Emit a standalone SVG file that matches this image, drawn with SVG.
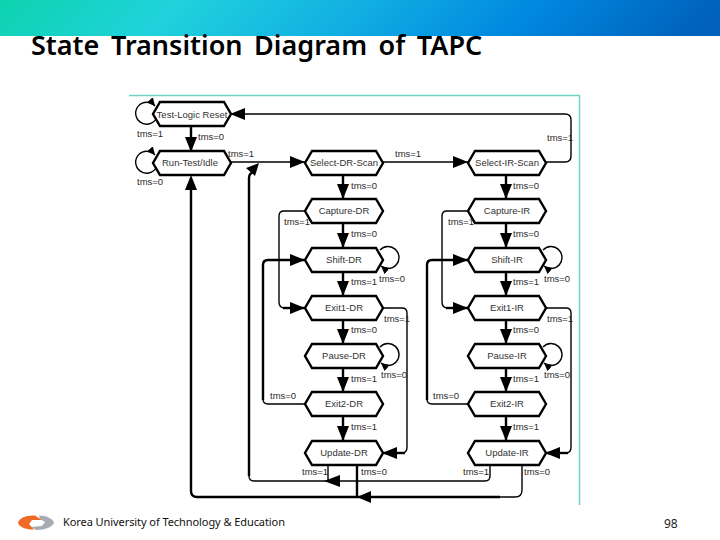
<svg xmlns="http://www.w3.org/2000/svg" width="720" height="540" viewBox="0 0 720 540">
<style>
.n{fill:#fff;stroke:#000;stroke-width:2.4;stroke-linejoin:miter}
.t{font-family:"Liberation Sans",Arial,sans-serif;font-size:9.5px;fill:#333;text-anchor:middle}
.l{font-family:"Liberation Sans",Arial,sans-serif;font-size:9.5px;fill:#2a2a2a}
.c{fill:none;stroke:#000;stroke-width:1.4;stroke-linejoin:round}
.k{fill:none;stroke:#000;stroke-width:2.4;stroke-linejoin:round}
.a{marker-end:url(#ah)}
.s{marker-end:url(#sh)}
</style>
<defs>
<linearGradient id="bar" x1="0" y1="0" x2="1" y2="0.05">
<stop offset="0" stop-color="#0dd3ae"/>
<stop offset="0.25" stop-color="#20d2dc"/>
<stop offset="0.5" stop-color="#12b0e2"/>
<stop offset="0.75" stop-color="#0088e0"/>
<stop offset="1" stop-color="#0062bc"/>
</linearGradient>
<marker id="ah" markerUnits="userSpaceOnUse" markerWidth="16" markerHeight="12" refX="15" refY="6" orient="auto"><path d="M0 0L15 6L0 12Z" fill="#000"/></marker>
<marker id="sh" markerUnits="userSpaceOnUse" markerWidth="9" markerHeight="9" refX="8" refY="4" orient="auto"><path d="M0 0L8 4L0 8Z" fill="#000"/></marker>
<path id="hex" class="n" d="M-32 -12H32L39 0L32 12H-32L-39 0Z"/>
</defs>
<rect x="0" y="0" width="720" height="36" fill="url(#bar)"/>
<text x="31" y="55" font-family="'Noto Sans','Open Sans',sans-serif" font-size="27" font-weight="600" fill="#000" word-spacing="4.500">State Transition Diagram of TAPC</text>
<path d="M129 95.500H579.500V505" fill="none" stroke="#6fd3c4" stroke-width="1.500"/>
<g id="connectors">
<path class="c s" d="M156 119A11 11 0 1 1 155 106"/>
<path class="c s" d="M156 168A11 11 0 1 1 155 155"/>
<path class="k a" d="M191 126V152"/>
<path class="c a" d="M230 162H305"/>
<path class="c a" d="M382 162H468"/>
<path class="c a" d="M545 162H565Q571 162 571 156V120Q571 114 565 114H230"/>
<path class="k a" d="M343 174V199"/>
<path class="k a" d="M343 223V248"/>
<path class="k a" d="M343 272V296"/>
<path class="k a" d="M343 320V344"/>
<path class="k a" d="M343 368V392"/>
<path class="k a" d="M343 416V441"/>
<path class="k a" d="M506 174V199"/>
<path class="k a" d="M506 223V248"/>
<path class="k a" d="M506 272V296"/>
<path class="k a" d="M506 320V344"/>
<path class="k a" d="M506 368V392"/>
<path class="k a" d="M506 416V441"/>
<path class="c" d="M305 211H284Q279 211 279 216V302Q279 308 285 308H292"/>
<path class="k a" d="M283 308H305"/>
<path class="c" d="M468 211H447Q442 211 442 216V302Q442 308 448 308H455"/>
<path class="k a" d="M446 308H468"/>
<path class="c" d="M305 404H268Q263 404 263 399V330"/>
<path class="k a" d="M263 400V265Q263 260 268 260H305"/>
<path class="c" d="M468 404H432Q427 404 427 399V330"/>
<path class="k a" d="M427 400V265Q427 260 432 260H468"/>
<path class="c" d="M382 308H402Q407 308 407 313V447Q407 453 402 453H392"/>
<path class="k a" d="M405 453H382"/>
<path class="c" d="M545 308H566Q571 308 571 313V447Q571 453 566 453H555"/>
<path class="k a" d="M568 453H545"/>
<path class="c" d="M490 465V476Q490 481 485 481H254Q249 481 249 476"/>
<path class="k" d="M249 476V178Q249 173 254 172"/>
<path class="c" d="M328 465V481"/>
<path d="M324 481L340 475V487Z" fill="#000"/>
<path d="M259 163L255 176L246 168Z" fill="#000"/>
<path class="c" d="M522 465V490Q522 497 515 497H500"/>
<path class="k" d="M357 465V497"/>
<path class="k" d="M500 497H197Q191 497 191 491V190"/>
<path d="M191 175L197 190H185Z" fill="#000"/>
<path d="M357 497L371 491V503Z" fill="#000"/>
<path class="c s" d="M380 250A11 11 0 1 1 381 266"/>
<path class="c s" d="M380 347A11 11 0 1 1 381 363"/>
<path class="c s" d="M543 250A11 11 0 1 1 544 266"/>
<path class="c s" d="M543 347A11 11 0 1 1 544 363"/>
</g>
<g id="test-logic-reset"><use href="#hex" x="192" y="114"/><text class="t" x="192" y="117.500">Test-Logic Reset</text></g>
<g id="run-test-idle"><use href="#hex" x="192" y="163"/><text class="t" x="190" y="166">Run-Test/Idle</text></g>
<g id="select-dr-scan"><use href="#hex" x="344" y="163"/><text class="t" x="344" y="166">Select-DR-Scan</text></g>
<g id="capture-dr"><use href="#hex" x="344" y="211"/><text class="t" x="344" y="214">Capture-DR</text></g>
<g id="shift-dr"><use href="#hex" x="344" y="260"/><text class="t" x="344" y="263">Shift-DR</text></g>
<g id="exit1-dr"><use href="#hex" x="344" y="308"/><text class="t" x="344" y="311">Exit1-DR</text></g>
<g id="pause-dr"><use href="#hex" x="344" y="356"/><text class="t" x="344" y="359">Pause-DR</text></g>
<g id="exit2-dr"><use href="#hex" x="344" y="404"/><text class="t" x="344" y="407">Exit2-DR</text></g>
<g id="update-dr"><use href="#hex" x="344" y="453"/><text class="t" x="344" y="456">Update-DR</text></g>
<g id="select-ir-scan"><use href="#hex" x="507" y="163"/><text class="t" x="507" y="166">Select-IR-Scan</text></g>
<g id="capture-ir"><use href="#hex" x="507" y="211"/><text class="t" x="507" y="214">Capture-IR</text></g>
<g id="shift-ir"><use href="#hex" x="507" y="260"/><text class="t" x="507" y="263">Shift-IR</text></g>
<g id="exit1-ir"><use href="#hex" x="507" y="308"/><text class="t" x="507" y="311">Exit1-IR</text></g>
<g id="pause-ir"><use href="#hex" x="507" y="356"/><text class="t" x="507" y="359">Pause-IR</text></g>
<g id="exit2-ir"><use href="#hex" x="507" y="404"/><text class="t" x="507" y="407">Exit2-IR</text></g>
<g id="update-ir"><use href="#hex" x="507" y="453"/><text class="t" x="507" y="456">Update-IR</text></g>
<g id="labels">
<text class="l" x="137" y="137">tms=1</text>
<text class="l" x="198" y="140">tms=0</text>
<text class="l" x="228" y="157">tms=1</text>
<text class="l" x="137" y="185">tms=0</text>
<text class="l" x="395" y="157">tms=1</text>
<text class="l" x="547" y="141">tms=1</text>
<text class="l" x="351" y="189">tms=0</text>
<text class="l" x="513" y="189">tms=0</text>
<text class="l" x="351" y="237">tms=0</text>
<text class="l" x="513" y="237">tms=0</text>
<text class="l" x="284" y="225">tms=1</text>
<text class="l" x="448" y="225">tms=1</text>
<text class="l" x="351" y="285">tms=1</text>
<text class="l" x="513" y="285">tms=1</text>
<text class="l" x="379" y="282">tms=0</text>
<text class="l" x="544" y="282">tms=0</text>
<text class="l" x="384" y="322">tms=1</text>
<text class="l" x="547" y="322">tms=1</text>
<text class="l" x="351" y="333">tms=0</text>
<text class="l" x="513" y="333">tms=0</text>
<text class="l" x="351" y="382">tms=1</text>
<text class="l" x="513" y="382">tms=1</text>
<text class="l" x="381" y="378">tms=0</text>
<text class="l" x="544" y="378">tms=0</text>
<text class="l" x="270" y="399">tms=0</text>
<text class="l" x="433" y="399">tms=0</text>
<text class="l" x="351" y="430">tms=1</text>
<text class="l" x="513" y="430">tms=1</text>
<text class="l" x="302" y="475">tms=1</text>
<text class="l" x="361" y="475">tms=0</text>
<text class="l" x="463" y="475">tms=1</text>
<text class="l" x="524" y="475">tms=0</text>
</g>
<g id="logo">
<path d="M35 515.500C26 515 19 518 18 523C19 527 27 530 34 529.500L29 524L32 520L42 520Z" fill="#ee6a26"/>
<path d="M39 515.500C47 515.500 53 519 54 522.500C53 527 45 530 36 530L31 527L42 526L45 522L40 519Z" fill="#a8acb0"/>
</g>
<text x="63" y="526" font-family="'Noto Sans','Open Sans',sans-serif" font-size="11" fill="#111" textLength="222" lengthAdjust="spacing">Korea University of Technology &amp; Education</text>
<text x="664" y="528" font-family="'Noto Sans','Open Sans',sans-serif" font-size="12" fill="#222">98</text>
</svg>
